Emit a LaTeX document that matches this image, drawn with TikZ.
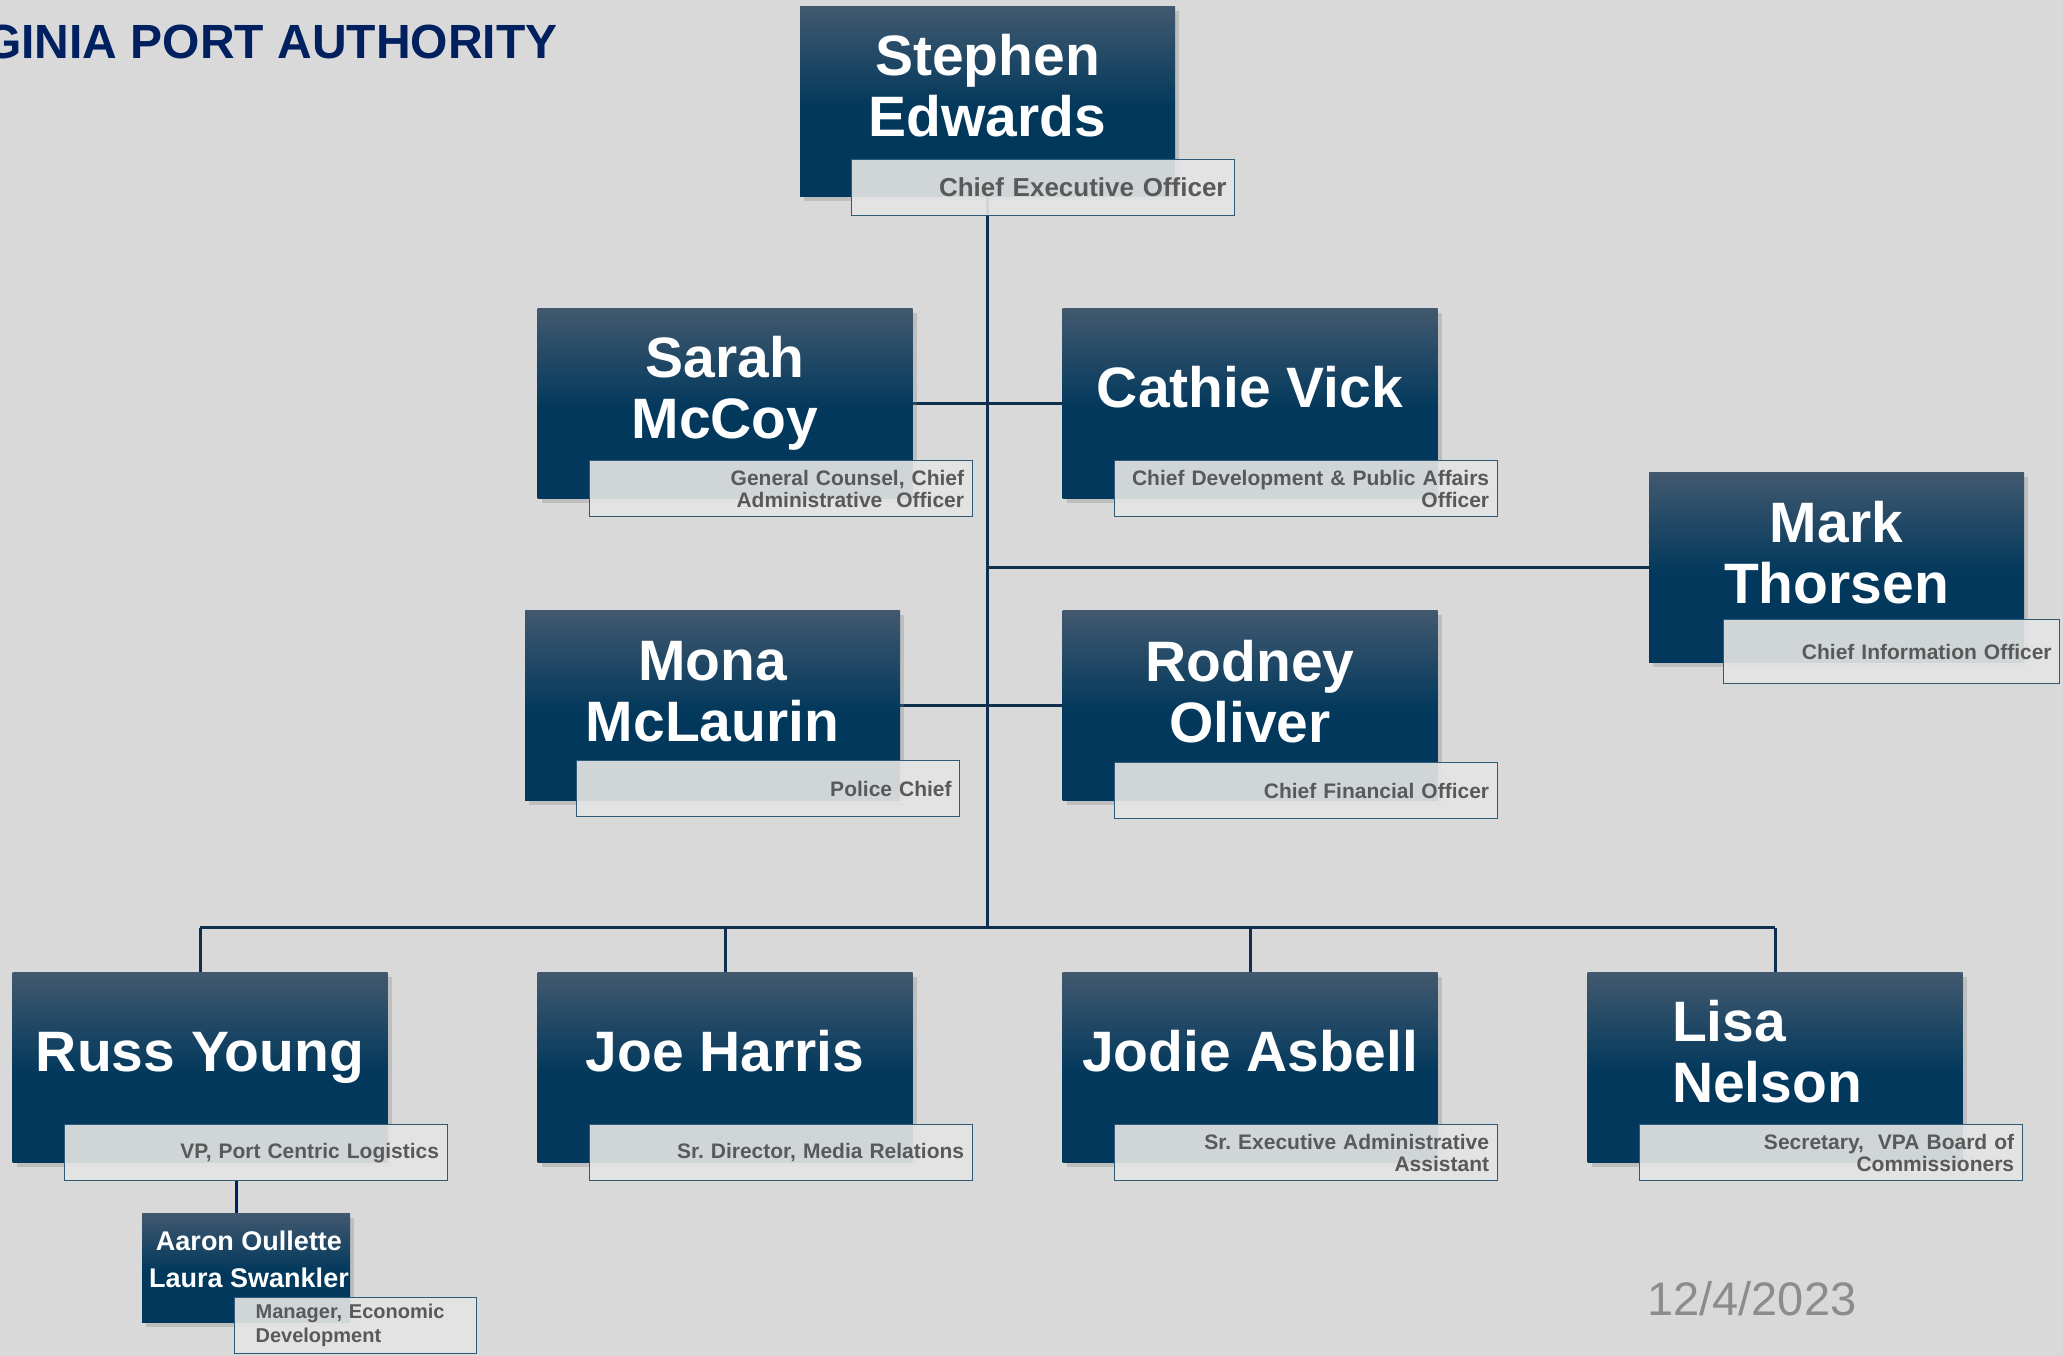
\documentclass[tikz,border=0pt]{standalone}
\usepackage{fontspec}
\setmainfont{Liberation Sans}
\frenchspacing
\usetikzlibrary{positioning, shadows}

\definecolor{slide}{HTML}{D9D9D9}
\definecolor{boxtop}{HTML}{42596F}
\definecolor{boxdark}{HTML}{01385C}
\definecolor{tieline}{HTML}{0E2F4D}
\definecolor{titleedge}{HTML}{2E5B78}
\definecolor{titlefill}{HTML}{E5E5E5}
\definecolor{titlegray}{HTML}{595959}
\definecolor{vpanavy}{HTML}{002060}
\definecolor{dategray}{HTML}{8C8C8C}

\pgfdeclareverticalshading{boxshade}{100bp}{color(0bp)=(boxdark); color(25bp)=(boxdark);
  color(48bp)=(boxdark); color(75bp)=(boxtop); color(100bp)=(boxtop)}

\pgfdeclarelayer{bg}
\pgfdeclarelayer{lines}
\pgfsetlayers{bg,lines,main}

\tikzset{
  person/.style={rectangle, minimum width=375pt, minimum height=190pt, inner sep=0pt,
    shade, shading=boxshade,
    drop shadow={shadow xshift=4pt, shadow yshift=-5pt, opacity=.3}},
  pname/.style={text=white, font=\bfseries\fontsize{57}{61}\selectfont, align=center,
    inner sep=0pt},
  ptitle/.style={rectangle, draw=titleedge, line width=1.2pt, fill=titlefill,
    fill opacity=.91, text opacity=1, text=titlegray,
    font=\bfseries\fontsize{21}{22.5}\selectfont, align=right, text width=#1,
    inner xsep=8pt, inner ysep=0pt, minimum height=56pt},
  ptitle/.default=367pt,
  tie/.style={draw=tieline, line width=3pt}
}

\begin{document}
\begin{tikzpicture}[x=1pt, y=-1pt, node distance=525pt]
  \useasboundingbox (0,0) rectangle (2063,1356);
  \begin{pgfonlayer}{bg}
    \fill[slide] (0,0) rectangle (2063,1356);
  \end{pgfonlayer}

  % heading and date
  \node[anchor=base west, inner sep=0pt, text=vpanavy,
    font=\bfseries\fontsize{48}{48}\selectfont] (vpa) at (-16,59) {GINIA PORT AUTHORITY};
  \node[anchor=base west, inner sep=0pt, text=dategray,
    font=\fontsize{47}{47}\selectfont] (date) at (1647,1315) {12/4/2023};

  % CEO
  \node[person] (edwards) at (987.5,101.5) {};
  \node[pname] (edwards-n) at ([yshift=16pt]edwards.center) {Stephen\\Edwards};
  \node[ptitle, font=\bfseries\fontsize{26}{28}\selectfont,
    below left=-38pt and -60pt of edwards.south east] (edwards-t) {Chief Executive Officer};

  % second level
  \node[person] (mccoy) at (725,403) {};
  \node[pname] (mccoy-n) at ([yshift=10pt]mccoy.center) {Sarah\\McCoy};
  \node[ptitle, below left=-38pt and -60pt of mccoy.south east] (mccoy-t)
    {General Counsel, Chief\\Administrative~ Officer};

  \node[person, right of=mccoy] (vick) {};
  \node[pname] (vick-n) at ([yshift=16pt]vick.center) {Cathie Vick};
  \node[ptitle, below left=-38pt and -60pt of vick.south east] (vick-t)
    {Chief Development \& Public Affairs\\Officer};

  \node[person] (thorsen) at (1836.5,567) {};
  \node[pname] (thorsen-n) at ([yshift=14pt]thorsen.center) {Mark\\Thorsen};
  \node[ptitle=320pt, minimum height=64pt,
    below left=-43pt and -36pt of thorsen.south east] (thorsen-t) {Chief Information Officer};

  \node[person] (mclaurin) at (712.5,705) {};
  \node[pname] (mclaurin-n) at ([yshift=13pt]mclaurin.center) {Mona\\McLaurin};
  \node[ptitle, below left=-40pt and -60pt of mclaurin.south east] (mclaurin-t) {Police Chief};

  \node[person] (oliver) at (1250,705) {};
  \node[pname] (oliver-n) at ([yshift=13pt]oliver.center) {Rodney\\Oliver};
  \node[ptitle, below left=-38pt and -60pt of oliver.south east] (oliver-t) {Chief Financial Officer};

  % bottom row
  \node[person] (young) at (200,1067) {};
  \node[pname] (young-n) at ([yshift=9pt]young.center) {Russ Young};
  \node[ptitle, below left=-38pt and -60pt of young.south east] (young-t) {VP, Port Centric Logistics};

  \node[person, right of=young] (harris) {};
  \node[pname] (harris-n) at ([yshift=16pt]harris.center) {Joe Harris};
  \node[ptitle, below left=-38pt and -60pt of harris.south east] (harris-t) {Sr. Director, Media Relations};

  \node[person, right of=harris] (asbell) {};
  \node[pname] (asbell-n) at ([yshift=16pt]asbell.center) {Jodie Asbell};
  \node[ptitle, below left=-38pt and -60pt of asbell.south east] (asbell-t)
    {Sr. Executive Administrative\\Assistant};

  \node[person, right of=asbell] (nelson) {};
  \node[pname, align=left] (nelson-n) at ([xshift=-8pt, yshift=15pt]nelson.center) {Lisa\\Nelson};
  \node[ptitle, below left=-38pt and -60pt of nelson.south east] (nelson-t)
    {Secretary,~ VPA Board of\\Commissioners};

  % under Russ Young
  \node[person, minimum width=208pt, minimum height=109pt] (oullette) at (246,1267.5) {};
  \node[pname, font=\bfseries\fontsize{27}{37}\selectfont] (oullette-n)
    at ([xshift=3pt, yshift=8pt]oullette.center) {Aaron Oullette\\Laura Swankler};
  \node[ptitle=200pt, align=left, inner xsep=21pt, font=\bfseries\fontsize{20}{24}\selectfont,
    below left=-25pt and -127pt of oullette.south east] (oullette-t)
    {Manager, Economic\\Development};

  % connectors
  \begin{pgfonlayer}{lines}
    \coordinate (bus) at ([yshift=44pt]edwards.south |- young.north);
    \draw[tie] (edwards.south) -- (bus);
    \draw[tie] (mccoy.east) -- (vick.west);
    \draw[tie] (mclaurin.east) -- (oliver.west);
    \draw[tie] (thorsen.west) -- (thorsen.west -| edwards.south);
    \draw[tie] (young.north |- bus) -- (nelson.north |- bus);
    \foreach \who in {young, harris, asbell, nelson}
      \draw[tie] (\who.north |- bus) -- (\who.north);
    \draw[draw=vpanavy, line width=3pt] ([xshift=-10pt]oullette.north)
      -- ([xshift=-10pt]oullette.north |- young-t.south);
  \end{pgfonlayer}
\end{tikzpicture}
\end{document}
